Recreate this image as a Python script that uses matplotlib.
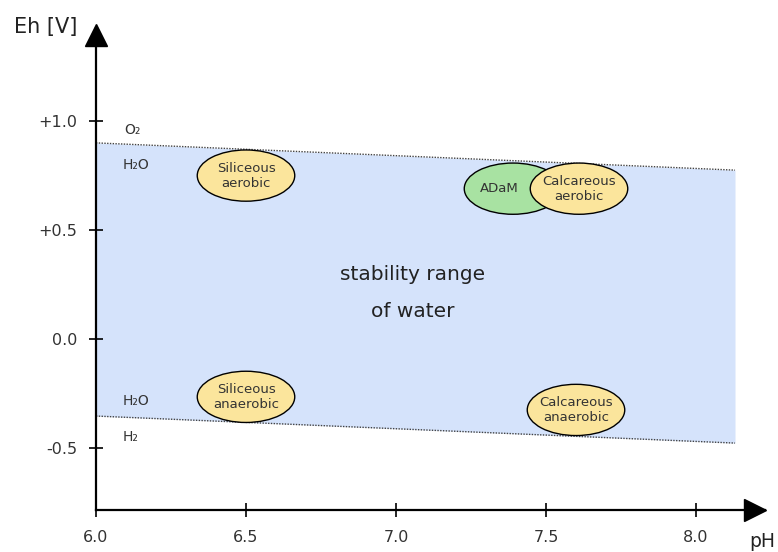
import numpy as np
import matplotlib
matplotlib.use('Agg')
import matplotlib.pyplot as plt
from matplotlib.patches import Ellipse

# water stability field boundaries (pH, Eh [V])
ph_edge = [6.0, 8.13]
eh_upper = [0.90, 0.775]   # O2 / H2O
eh_lower = [-0.353, -0.477]  # H2O / H2

x_ticks = [6.0, 6.5, 7.0, 7.5, 8.0]
y_ticks = [-0.5, 0.0, 0.5, 1.0]
y_tick_labels = ['-0.5', '0.0', '+0.5', '+1.0']

# environments (label, pH, Eh)
env_labels = ['Siliceous\naerobic', 'Siliceous\nanaerobic', 'ADaM',
              'Calcareous\naerobic', 'Calcareous\nanaerobic']
env_ph = [6.5, 6.5, 7.39, 7.61, 7.60]
env_eh = [0.75, -0.265, 0.69, 0.69, -0.325]
env_colors = ['#fbe59c', '#fbe59c', '#a8e2a2', '#fbe59c', '#fbe59c']

W, H = 778, 552
fig = plt.figure(figsize=(W / 100, H / 100), dpi=100)
ax = fig.add_axes([96 / W, (H - 510) / H, (765 - 96) / W, (510 - 28) / H])
ax.set_xlim(6.0, 6.0 + 669 / 300)
ax.set_ylim(-0.784, -0.784 + 482 / 218)

for s in ['top', 'right']:
    ax.spines[s].set_visible(False)
for s in ['left', 'bottom']:
    ax.spines[s].set_linewidth(1.6)
    ax.spines[s].set_color('black')

ax.fill_between(ph_edge, eh_lower, eh_upper, color='#d5e3fb', lw=0, zorder=1)
ax.plot(ph_edge, eh_upper, ls=(0, (1, 1)), color='#444444', lw=1.0, zorder=2)
ax.plot(ph_edge, eh_lower, ls=(0, (1, 1)), color='#444444', lw=1.0, zorder=2)

ax.set_xticks(x_ticks)
ax.set_xticklabels([f'{v:.1f}' for v in x_ticks])
ax.set_yticks(y_ticks)
ax.set_yticklabels(y_tick_labels)
ax.tick_params(direction='inout', length=10.5, width=1.2, labelsize=11.5,
               labelcolor='#333333', color='black')
ax.tick_params(axis='x', pad=9)
ax.tick_params(axis='y', pad=8)

# arrow heads
ax.plot([0.985], [0], marker='>', ms=16, color='black', transform=ax.transAxes, clip_on=False)
ax.plot([0], [0.985], marker='^', ms=16, color='black', transform=ax.transAxes, clip_on=False)

# ADaM label sits left of the overlap with the calcareous ellipse
label_shift = {'ADaM': -0.045}
for i in range(len(env_labels)):
    e = Ellipse((env_ph[i], env_eh[i]), width=0.325, height=0.235,
                facecolor=env_colors[i], edgecolor='black', lw=1.0, zorder=3 + i)
    ax.add_patch(e)
    ax.text(env_ph[i] + label_shift.get(env_labels[i], 0), env_eh[i], env_labels[i],
            ha='center', va='center', fontsize=9.5, color='#333333',
            linespacing=1.2, zorder=3 + i)

ax.text(6.095, 0.96, 'O₂', fontsize=10, color='#333333', va='center')
ax.text(6.09, 0.80, 'H₂O', fontsize=10, color='#333333', va='center')
ax.text(6.09, -0.285, 'H₂O', fontsize=10, color='#333333', va='center')
ax.text(6.09, -0.45, 'H₂', fontsize=10, color='#333333', va='center')

ax.text(7.055, 0.295, 'stability range', fontsize=14.5, color='#222222', ha='center', va='center')
ax.text(7.055, 0.125, 'of water', fontsize=14.5, color='#222222', ha='center', va='center')

fig.text(46 / W, 1 - 27 / H, 'Eh [V]', fontsize=15, color='#222222', ha='center', va='center')
fig.text(762 / W, 1 - 532 / H, 'pH', fontsize=13.5, color='#222222', ha='center', va='top')

fig.savefig('out.png', dpi=100)
